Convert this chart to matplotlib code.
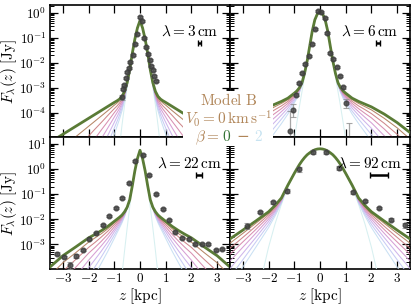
import numpy as np
import matplotlib
matplotlib.use("Agg")
import matplotlib.pyplot as plt
from matplotlib.patches import Rectangle
from matplotlib.ticker import MultipleLocator, LogLocator, NullFormatter

plt.rcParams.update({
    "font.family": "serif",
    "font.serif": ["cmr10", "DejaVu Serif"],
    "mathtext.fontset": "cm",
    "axes.formatter.use_mathtext": True,
    "axes.linewidth": 1.2,
    "xtick.direction": "in", "ytick.direction": "in",
    "xtick.top": True, "ytick.right": True,
    "xtick.major.size": 6, "ytick.major.size": 6,
    "ytick.minor.size": 3, "xtick.minor.size": 3,
    "xtick.major.width": 0.9, "ytick.major.width": 0.9,
    "ytick.minor.width": 0.7,
    "xtick.labelsize": 9.5, "ytick.labelsize": 9.5,
    "xtick.major.pad": 2.5, "ytick.major.pad": 2.5,
})

# ---------------- data ----------------
LAMBDA_LABELS = ["3", "6", "22", "92"]
BEAM_Z = [2.30, 2.26, 2.30, 2.30]
BEAM_W = [0.12, 0.18, 0.22, 0.70]

# half-profile grid (kpc) of the model curves, log10 F [Jy]
Z_HALF = [0.0, 0.1, 0.2, 0.3, 0.4, 0.5, 0.6, 0.7, 0.8, 0.9, 1.0, 1.25, 1.5, 1.75, 2.0, 2.5, 3.0, 3.5]

# ---- 3 cm
A_GREEN = [-0.30, -0.60, -1.05, -1.62, -2.28, -2.80, -3.15, -3.35, -3.46, -3.53, -3.59, -3.75, -3.91, -4.07, -4.23, -4.55, -4.87, -5.19]
A_CORE = [-0.30, -0.60, -1.05, -1.63, -2.33, -2.98, -3.70, -4.50, -5.40, -6.40, -7.50, -9.0, -10.5, -12.0, -13.5, -16.5, -19.5, -22.5]
A_TAILS = [
    [-2.81, -3.18, -3.40, -3.53, -3.62, -3.70, -3.92, -4.13, -4.34, -4.55, -4.97, -5.40, -5.82],
    [-2.82, -3.22, -3.46, -3.62, -3.74, -3.84, -4.11, -4.39, -4.66, -4.94, -5.48, -6.03, -6.58],
    [-2.84, -3.26, -3.54, -3.72, -3.87, -4.00, -4.35, -4.69, -5.04, -5.39, -6.08, -6.77, -7.46],
    [-2.85, -3.31, -3.62, -3.84, -4.01, -4.18, -4.61, -5.04, -5.47, -5.90, -6.76, -7.61, -8.47],
    [-2.87, -3.37, -3.71, -3.97, -4.18, -4.39, -4.91, -5.43, -5.95, -6.48, -7.52, -8.57, -9.61],
    [-2.89, -3.43, -3.82, -4.11, -4.37, -4.62, -5.24, -5.87, -6.49, -7.12, -8.37, -9.62, -10.87],
    [-2.92, -3.50, -3.93, -4.27, -4.57, -4.87, -5.60, -6.34, -7.08, -7.82, -9.30, -10.78, -12.26],
]
# ---- 6 cm
B_GREEN = [0.03, -0.03, -0.27, -0.72, -1.33, -1.93, -2.42, -2.80, -3.00, -3.13, -3.22, -3.42, -3.55, -3.66, -3.77, -4.06, -4.40, -4.80]
B_CORE = [0.03, -0.03, -0.27, -0.72, -1.34, -1.96, -2.55, -3.15, -3.75, -4.40, -5.10, -7.0, -9.0, -11.0, -13.0, -17.0, -21.0, -25.0]
B_TAILS = [
    [-2.81, -3.02, -3.16, -3.26, -3.48, -3.63, -3.76, -3.89, -4.23, -4.61, -5.06],
    [-2.82, -3.04, -3.19, -3.30, -3.55, -3.73, -3.88, -4.04, -4.43, -4.87, -5.36],
    [-2.83, -3.06, -3.23, -3.35, -3.63, -3.84, -4.03, -4.21, -4.66, -5.16, -5.72],
    [-2.85, -3.09, -3.27, -3.40, -3.72, -3.96, -4.19, -4.41, -4.93, -5.50, -6.13],
    [-2.86, -3.12, -3.32, -3.47, -3.82, -4.10, -4.37, -4.63, -5.23, -5.88, -6.59],
    [-2.88, -3.16, -3.37, -3.54, -3.94, -4.26, -4.57, -4.88, -5.57, -6.30, -7.10],
    [-2.90, -3.20, -3.43, -3.61, -4.06, -4.44, -4.79, -5.15, -5.93, -6.77, -7.66],
]
# ---- 22 cm
C_GREEN = [0.75, 0.42, -0.07, -0.67, -1.22, -1.52, -1.70, -1.83, -1.92, -2.00, -2.08, -2.28, -2.45, -2.60, -2.74, -3.10, -3.45, -3.90]
C_CORE = [0.75, 0.42, -0.08, -0.70, -1.50, -2.35, -3.25, -4.20, -5.20, -6.20, -7.30, -10.0, -13.0, -16.0, -19.0, -25.0, -31.0, -38.0]
C_TAILS = [
    [-1.53, -1.72, -1.86, -1.96, -2.05, -2.14, -2.37, -2.57, -2.74, -2.91, -3.33, -3.73, -4.24],
    [-1.53, -1.74, -1.89, -2.01, -2.11, -2.21, -2.47, -2.70, -2.92, -3.12, -3.60, -4.07, -4.64],
    [-1.54, -1.76, -1.93, -2.06, -2.18, -2.30, -2.60, -2.87, -3.12, -3.35, -3.91, -4.46, -5.11],
    [-1.55, -1.79, -1.97, -2.12, -2.26, -2.40, -2.74, -3.05, -3.34, -3.63, -4.27, -4.91, -5.65],
    [-1.56, -1.82, -2.02, -2.19, -2.35, -2.50, -2.90, -3.26, -3.60, -3.93, -4.68, -5.41, -6.25],
    [-1.57, -1.85, -2.08, -2.27, -2.45, -2.63, -3.07, -3.49, -3.89, -4.28, -5.13, -5.98, -6.92],
    [-1.58, -1.89, -2.14, -2.35, -2.55, -2.76, -3.27, -3.74, -4.20, -4.65, -5.63, -6.59, -7.66],
]
# ---- 92 cm
D_GREEN = [0.81, 0.80, 0.77, 0.72, 0.65, 0.57, 0.46, 0.33, 0.18, 0.01, -0.17, -0.64, -1.15, -1.45, -1.70, -2.07, -2.43, -2.78]
D_CORE = [0.81, 0.80, 0.77, 0.72, 0.65, 0.565, 0.46, 0.33, 0.18, 0.016, -0.17, -0.72, -1.40, -2.19, -3.11, -5.32, -8.01, -11.2]
D_TAILS = [
    [-1.17, -1.49, -1.76, -2.16, -2.56, -2.95],
    [-1.19, -1.53, -1.82, -2.28, -2.72, -3.15],
    [-1.22, -1.59, -1.90, -2.41, -2.90, -3.39],
    [-1.25, -1.65, -1.99, -2.56, -3.11, -3.66],
    [-1.28, -1.71, -2.09, -2.73, -3.35, -3.96],
    [-1.32, -1.79, -2.21, -2.91, -3.61, -4.30],
    [-1.36, -1.87, -2.33, -3.12, -3.90, -4.67],
]

# ---- observed profiles: z [kpc], log10 F, errors in dex (down, up)
A_PZ = [-0.69, -0.65, -0.61, -0.56, -0.50, -0.44, -0.37, -0.29, -0.21, -0.12, -0.01, 0.08, 0.17, 0.24, 0.31, 0.37, 0.43, 0.49, 0.56, 0.63]
A_PL = [-3.38, -3.05, -2.90, -2.62, -2.36, -2.20, -1.96, -1.68, -1.25, -0.85, -0.16, -0.32, -1.00, -1.35, -1.65, -1.88, -2.12, -2.30, -2.52, -2.72]
A_ELO = [0.12, 0.05, 0.04, 0.04, 0.04, 0.04, 0.04, 0.04, 0.04, 0.04, 0.04, 0.04, 0.04, 0.04, 0.04, 0.04, 0.04, 0.04, 0.04, 0.04]
A_EHI = [0.10, 0.05, 0.04, 0.04, 0.04, 0.04, 0.04, 0.04, 0.04, 0.04, 0.04, 0.04, 0.04, 0.04, 0.04, 0.04, 0.04, 0.04, 0.04, 0.04]

B_PZ = [-1.15, -1.05, -0.92, -0.80, -0.70, -0.57, -0.44, -0.31, -0.19, -0.09, 0.05, 0.19, 0.27, 0.39, 0.52, 0.66, 0.79, 0.91, 1.01, 1.14]
B_PL = [-4.72, -3.90, -3.28, -2.81, -2.41, -2.05, -1.72, -1.25, -0.64, 0.08, 0.05, -0.19, -0.81, -1.61, -1.84, -2.15, -2.51, -2.99, -3.61, -5.40]
B_ELO = [1.00, 0.28, 0.07, 0.04, 0.04, 0.04, 0.04, 0.04, 0.04, 0.04, 0.04, 0.04, 0.04, 0.04, 0.04, 0.04, 0.04, 0.05, 0.20, 0.50]
B_EHI = [0.80, 0.25, 0.07, 0.04, 0.04, 0.04, 0.04, 0.04, 0.04, 0.04, 0.04, 0.04, 0.04, 0.04, 0.04, 0.04, 0.04, 0.05, 0.17, 1.00]

C_PZ = [-3.21, -2.97, -2.73, -2.47, -2.22, -1.97, -1.70, -1.44, -1.19, -0.93, -0.69, -0.42, -0.18, 0.10, 0.34, 0.62, 0.88, 1.11, 1.37, 1.63, 1.89, 2.15, 2.41, 2.66, 2.95, 3.18]
C_PL = [-3.37, -3.51, -3.83, -3.45, -3.22, -2.80, -2.55, -2.21, -1.86, -1.54, -1.15, -0.57, 0.34, 0.55, -0.25, -0.99, -1.59, -2.03, -2.49, -2.76, -2.79, -2.99, -2.99, -2.99, -3.23, -3.19]
C_ELO = [0.05, 0.05, 0.16, 0.09, 0.04, 0.04, 0.04, 0.04, 0.04, 0.04, 0.04, 0.04, 0.04, 0.04, 0.04, 0.04, 0.04, 0.04, 0.04, 0.04, 0.04, 0.04, 0.04, 0.04, 0.05, 0.05]
C_EHI = [0.05, 0.05, 0.13, 0.08, 0.04, 0.04, 0.04, 0.04, 0.04, 0.04, 0.04, 0.04, 0.04, 0.04, 0.04, 0.04, 0.04, 0.04, 0.04, 0.04, 0.04, 0.04, 0.04, 0.04, 0.05, 0.05]

D_PZ = [-2.83, -2.33, -1.81, -1.28, -0.80, -0.28, 0.23, 0.75, 1.27, 1.76, 2.28, 2.78, 3.31]
D_PL = [-2.25, -1.71, -1.33, -0.88, -0.01, 0.68, 0.68, 0.04, -0.92, -1.29, -1.56, -2.01, -2.24]
D_ELO = [0.12, 0.05, 0.04, 0.08, 0.10, 0.09, 0.09, 0.08, 0.06, 0.04, 0.04, 0.05, 0.11]
D_EHI = [0.10, 0.05, 0.04, 0.07, 0.09, 0.08, 0.08, 0.07, 0.05, 0.04, 0.04, 0.05, 0.09]

PANELS = [
    (A_GREEN, A_CORE, A_TAILS, A_PZ, A_PL, A_ELO, A_EHI),
    (B_GREEN, B_CORE, B_TAILS, B_PZ, B_PL, B_ELO, B_EHI),
    (C_GREEN, C_CORE, C_TAILS, C_PZ, C_PL, C_ELO, C_EHI),
    (D_GREEN, D_CORE, D_TAILS, D_PZ, D_PL, D_ELO, D_EHI),
]
YLIMS = [(1.05e-5, 2.1), (1.05e-5, 2.1), (1.05e-4, 19.0), (1.05e-4, 19.0)]
LABEL_X = [0.935, 0.935, 0.955, 0.955]

# --------------- figure ---------------
W, H = 416, 306
fig = plt.figure(figsize=(W / 100, H / 100), dpi=100)
gs = fig.add_gridspec(2, 2, left=50 / W, right=410 / W, top=1 - 5 / H,
                      bottom=1 - 269 / H, wspace=0, hspace=0)
axes = [fig.add_subplot(gs[i, j]) for i in range(2) for j in range(2)]

GREEN_LINE = "#5a7b36"
thin_colors = plt.cm.cubehelix(np.linspace(0.52, 0.90, 8))
label_green = plt.cm.cubehelix(0.35)
label_blue = plt.cm.cubehelix(0.86)
zh = np.array(Z_HALF)
z_full = np.concatenate([-zh[::-1], zh[1:]])


def mirror(v):
    v = np.asarray(v, float)
    return np.concatenate([v[::-1], v[1:]])


for idx, (ax, pan) in enumerate(zip(axes, PANELS)):
    green, core, tails, pz, pl, elo, ehi = pan
    thin = []
    for t in tails:
        thin.append(list(green[:len(Z_HALF) - len(t)]) + list(t))
    thin.append(core)
    for k in range(len(thin) - 1, -1, -1):
        ax.plot(z_full, 10 ** mirror(thin[k]), color=thin_colors[k], lw=0.75,
                alpha=0.9, zorder=3)
    ax.plot(z_full, 10 ** mirror(green), color=GREEN_LINE, lw=2.0, zorder=4)
    f = 10 ** np.asarray(pl)
    lo = f - f * 10 ** (-np.asarray(elo))
    hi = f * 10 ** np.asarray(ehi) - f
    ax.errorbar(pz, f, yerr=[lo, hi], fmt="o", ms=3.4, mfc="#3c3c3c", mec="#3c3c3c",
                alpha=0.8, ecolor="#909090", elinewidth=0.9, capsize=2, capthick=0.8,
                zorder=6)
    ax.set_yscale("log")
    ax.set_xlim(-3.5, 3.5)
    ax.set_ylim(*YLIMS[idx])
    ax.xaxis.set_major_locator(MultipleLocator(1))
    ax.yaxis.set_major_locator(LogLocator(base=10, numticks=20))
    ax.yaxis.set_minor_locator(LogLocator(base=10, subs=np.arange(2, 10), numticks=20))
    ax.yaxis.set_minor_formatter(NullFormatter())
    if idx < 2:
        ax.tick_params(labelbottom=False)
    else:
        ax.set_xlabel(r"$z\ [\mathrm{kpc}]$", fontsize=11, labelpad=1)
    if idx % 2 == 1:
        ax.tick_params(labelleft=False)
    else:
        ax.set_ylabel(r"$F_\lambda(z)\ [\mathrm{Jy}]$", fontsize=11)
        ax.yaxis.set_label_coords(-0.172, 0.5)
    ax.text(LABEL_X[idx], 0.80, r"$\lambda = %s\,\mathrm{cm}$" % LAMBDA_LABELS[idx],
            transform=ax.transAxes, ha="right", va="center", fontsize=11, zorder=8)
    bz, bw = BEAM_Z[idx], BEAM_W[idx]
    tr = ax.get_xaxis_transform()
    ax.plot([bz - bw / 2, bz + bw / 2], [0.71, 0.71], transform=tr, color="k",
            lw=1.8, solid_capstyle="butt", zorder=8)
    ax.plot([bz - bw / 2, bz + bw / 2], [0.71, 0.71], transform=tr, ls="none",
            marker="|", ms=4, mew=1.0, color="k", zorder=8)

# white box with model annotation
rect = Rectangle((183 / W, 1 - 146 / H), 90 / W, 55 / H, transform=fig.transFigure,
                 facecolor="white", edgecolor="none", zorder=20)
fig.add_artist(rect)
tan = "#b08558"
fig.text(229 / W, 1 - 100 / H, r"$\mathrm{Model\ B}$", ha="center", va="center",
         fontsize=11, color=tan, zorder=21)
fig.text(228 / W, 1 - 118.5 / H, r"$V_0 = 0\,\mathrm{km\,s^{-1}}$", ha="center",
         va="center", fontsize=11, color=tan, zorder=21)

# (text, colour, gap before in px, font family or None for default)
pieces = [(r"$\beta=$", tan, 0, None), (r"$0$", label_green, 3, None),
          ("\u2212", tan, 5, "DejaVu Serif"), (r"$2$", label_blue, 5, None)]
fig.canvas.draw()
renderer = fig.canvas.get_renderer()
placed = []
total = 0.0
for s, c, gap, fam in pieces:
    kw = {"family": fam} if fam else {}
    t = fig.text(0, 1 - 141 / H, s, ha="left", va="baseline", fontsize=11, color=c,
                 zorder=21, **kw)
    wdt = t.get_window_extent(renderer).width
    placed.append((t, gap, wdt))
    total += gap + wdt
x = 229 - total / 2
for t, gap, wdt in placed:
    x += gap
    t.set_x(x / W)
    x += wdt

fig.savefig("out.png", dpi=100)
